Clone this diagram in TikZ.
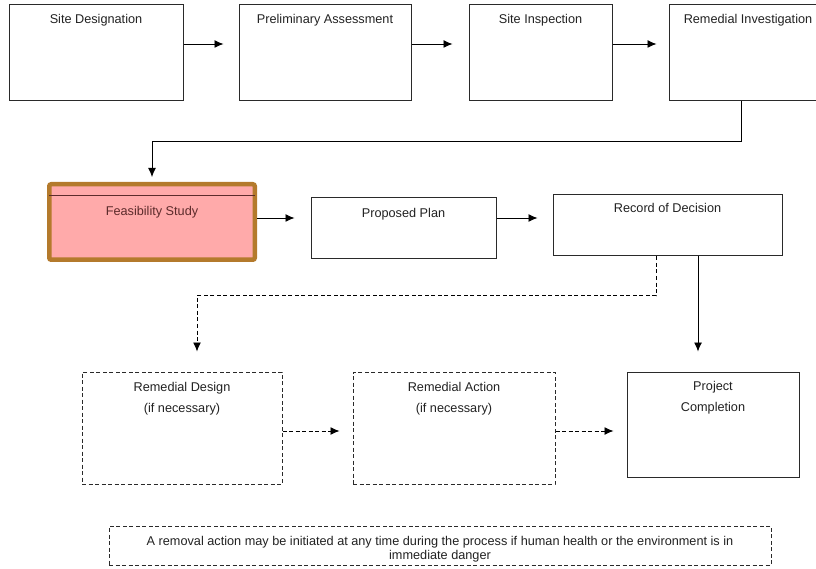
\documentclass[tikz,border=0pt]{standalone}
\usepackage{fontspec}
\setmainfont{Liberation Sans}
\usetikzlibrary{arrows.meta}
\definecolor{fsfill}{HTML}{FFAAAA}
\definecolor{fsborder}{HTML}{B47A2C}
\definecolor{fstext}{HTML}{5C2B2B}
\definecolor{linec}{HTML}{2A2A2A}
\definecolor{txtc}{HTML}{222222}
\begin{document}
\begin{tikzpicture}[x=1pt,y=-1pt,
  box/.style={draw=linec, line width=1pt, rectangle, inner sep=0pt, fill=white},
  dbox/.style={box, dash pattern=on 4pt off 2.5pt},
  ttl/.style={font=\fontsize{12.7}{21}\selectfont, text=txtc, align=center, inner sep=0pt, anchor=north},
  notetxt/.style={font=\fontsize{12.7}{14}\selectfont, text=txtc, align=center, inner sep=0pt, anchor=north},
  arr/.style={draw=black, line width=0.9pt, -{Latex[length=9pt,width=8pt]}},
  darr/.style={arr, dash pattern=on 4pt off 2.5pt},
]
\clip (0,0) rectangle (816,569);
\fill[white] (0,0) rectangle (816,569);

% top row
\node[box, minimum width=174pt, minimum height=96pt,
  label={[ttl, yshift=-10pt]north:Site Designation}] (sd) at (96,53) {};
\node[box, minimum width=172pt, minimum height=96pt,
  label={[ttl, yshift=-10pt]north:Preliminary Assessment}] (pa) at (325,53) {};
\node[box, minimum width=143pt, minimum height=96pt,
  label={[ttl, yshift=-10pt]north:Site Inspection}] (si) at (540.5,53) {};
\node[box, minimum width=158pt, minimum height=96pt,
  label={[ttl, yshift=-10pt]north:Remedial Investigation}] (ri) at (748,53) {};

% middle row
\node[draw=fsborder, line width=4.5pt, fill=fsfill, rounded corners=2pt, rectangle, inner sep=0pt,
  minimum width=205.5pt, minimum height=75.5pt] (fs) at (152,222) {};
\draw[draw=fstext, line width=1pt] ([xshift=2.2pt,yshift=-14pt]fs.north west) -- ([xshift=-2.2pt,yshift=-14pt]fs.north east);
\node[ttl, text=fstext, yshift=-24.5pt] (fst) at (fs.north) {Feasibility Study};

\node[box, minimum width=185pt, minimum height=61pt,
  label={[ttl, yshift=-11pt]north:Proposed Plan}] (pp) at (403.5,228.5) {};
\node[box, minimum width=229pt, minimum height=61pt,
  label={[ttl, yshift=-9pt]north:Record of Decision}] (rod) at (667.5,225.5) {};

% bottom row
\node[dbox, minimum width=200pt, minimum height=112pt,
  label={[ttl, yshift=-10.8pt]north:{Remedial Design\\(if necessary)}}] (rd) at (182,428) {};
\node[dbox, minimum width=202pt, minimum height=112pt,
  label={[ttl, yshift=-10.8pt]north:{Remedial Action\\(if necessary)}}] (ra) at (454,428) {};
\node[box, minimum width=172pt, minimum height=105pt,
  label={[ttl, yshift=-10pt]north:{Project\\Completion}}] (pc) at (713,424.5) {};

% note
\node[dbox, line width=0.9pt, minimum width=662pt, minimum height=39pt,
  label={[notetxt, yshift=-10.6pt]north:{A removal action may be initiated at any time during the process if human health or the environment is in\\immediate danger}}] (note) at (440,545.5) {};

% connectors
\draw[arr, shorten >=15pt] ([yshift=9pt]sd.east) -- ([yshift=9pt]pa.west);
\draw[arr, shorten >=16pt] ([yshift=9pt]pa.east) -- ([yshift=9pt]si.west);
\draw[arr, shorten >=12pt] ([yshift=9pt]si.east) -- ([yshift=9pt]ri.west);
\draw[arr, shorten >=5pt] ([xshift=-7pt]ri.south) -- ++(0,40) -| (fs.north);
\draw[arr, shorten >=16pt] ([yshift=4pt]fs.east) -- ([yshift=4pt]fs.east -| pp.west);
\draw[arr, shorten >=15pt] ([yshift=10.5pt]pp.east) -- ([yshift=10.5pt]pp.east -| rod.west);
\draw[darr, shorten >=20pt] ([xshift=-11.5pt]rod.south) -- ++(0,39) -| ([xshift=15pt]rd.north);
\draw[arr, shorten >=20pt] ([xshift=30.5pt]rod.south) -- ([xshift=30.5pt]rod.south |- pc.north);
\draw[darr, shorten >=13pt] ([yshift=-3pt]rd.east) -- ([yshift=-3pt]rd.east -| ra.west);
\draw[darr, shorten >=13pt] ([yshift=-3pt]ra.east) -- ([yshift=-3pt]ra.east -| pc.west);
\end{tikzpicture}
\end{document}
